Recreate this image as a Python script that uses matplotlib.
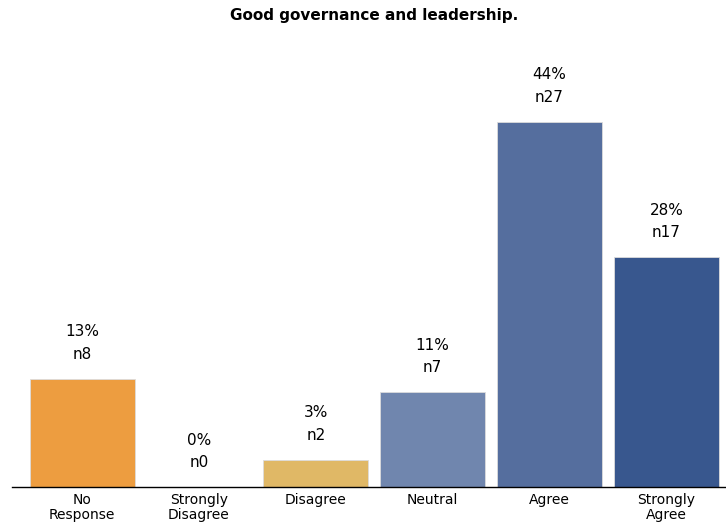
import matplotlib
matplotlib.use("Agg")
import matplotlib.pyplot as plt

categories = ["No\nResponse", "Strongly\nDisagree", "Disagree", "Neutral", "Agree", "Strongly\nAgree"]
counts = [8, 0, 2, 7, 27, 17]
colors = ["#ED9D40", "#D9D9D9", "#E0B866", "#7086AE", "#556E9E", "#38578E"]

total = sum(counts)
shares = [c / total for c in counts]

fig = plt.figure(figsize=(7.26, 5.26), dpi=100)
ax = fig.add_axes([0.0165, 0.0741, 0.9835, 0.85])

x = range(len(categories))
ax.bar(x, shares, width=0.9, color=colors, edgecolor="#dcdcdc", linewidth=0.6)

for i, (c, s) in enumerate(zip(counts, shares)):
    ax.text(i, s + 0.030, f"n{c}", ha="center", va="center", fontsize=11)
    ax.text(i, s + 0.057, f"{round(s * 100):.0f}%", ha="center", va="center", fontsize=11)

ax.set_xlim(-0.6, 5.51)
ax.set_ylim(0, 0.542)
ax.set_xticks(list(x))
ax.set_xticklabels(categories, fontsize=10, linespacing=1.1)
ax.tick_params(axis="x", length=0, pad=4)
ax.set_yticks([])
for side in ["top", "right", "left"]:
    ax.spines[side].set_visible(False)
ax.spines["bottom"].set_color("black")
ax.spines["bottom"].set_linewidth(1.0)

fig.text(0.515, 0.97, "Good governance and leadership.", ha="center", va="center",
         fontsize=11, fontweight="bold")

fig.savefig("out.png", dpi=100)
